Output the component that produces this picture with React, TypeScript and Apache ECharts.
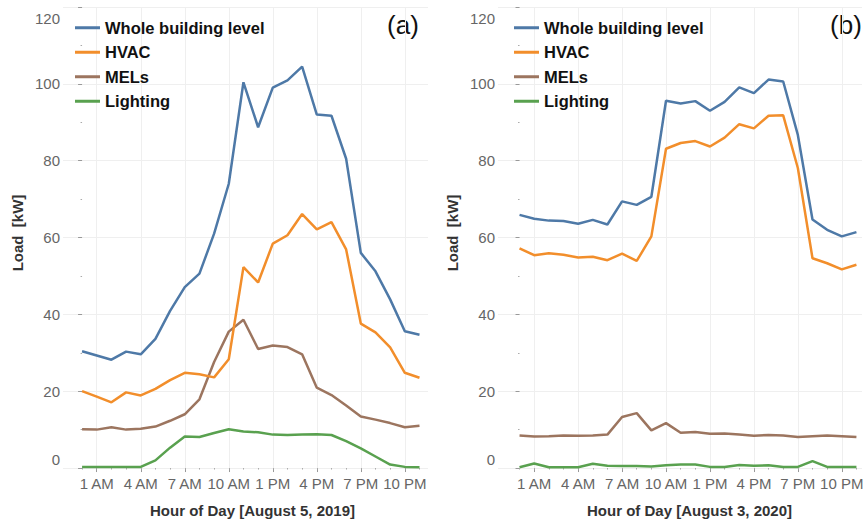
import React, { useEffect, useRef } from "react";
import * as echarts from "echarts";

const hours = [0, 1, 2, 3, 4, 5, 6, 7, 8, 9, 10, 11, 12, 13, 14, 15, 16, 17, 18, 19, 20, 21, 22, 23];
const xTickHours = [1, 4, 7, 10, 13, 16, 19, 22];
const xTickLabels = ["1 AM", "4 AM", "7 AM", "10 AM", "1 PM", "4 PM", "7 PM", "10 PM"];
const yTicks = [0, 20, 40, 60, 80, 100, 120];
const yMinorTicks = [10, 30, 50, 70, 90, 110];

const seriesNames = ["Whole building level", "HVAC", "MELs", "Lighting"];
const colors = ["#4e79a7", "#f28e2b", "#9c755f", "#59a14f"];

// (a) August 5, 2019
const wholeA = [30.4, 29.3, 28.2, 30.3, 29.6, 33.6, 40.9, 47.1, 50.6, 61.0, 74.0, 100.4, 88.7, 99.0, 100.9, 104.5, 92.0, 91.7, 80.5, 56.0, 51.2, 43.9, 35.6, 34.7];
const hvacA = [20.0, 18.6, 17.1, 19.7, 18.9, 20.6, 22.9, 24.8, 24.4, 23.6, 28.3, 52.3, 48.3, 58.4, 60.6, 66.1, 62.1, 64.0, 56.9, 37.6, 35.3, 31.4, 24.8, 23.5];
const melsA = [10.1, 10.0, 10.6, 10.0, 10.2, 10.8, 12.3, 14.0, 17.9, 27.6, 35.5, 38.6, 31.0, 31.9, 31.5, 29.6, 20.9, 19.0, 16.3, 13.4, 12.6, 11.7, 10.6, 11.0];
const lightA = [0.3, 0.3, 0.3, 0.3, 0.3, 2.0, 5.3, 8.2, 8.1, 9.1, 10.1, 9.5, 9.3, 8.7, 8.6, 8.7, 8.8, 8.6, 7.0, 5.1, 3.0, 0.9, 0.3, 0.2];

// (b) August 3, 2020
const wholeB = [65.9, 64.9, 64.4, 64.3, 63.6, 64.6, 63.4, 69.4, 68.5, 70.6, 95.6, 94.9, 95.5, 93.0, 95.3, 99.1, 97.6, 101.1, 100.6, 86.7, 64.7, 62.0, 60.3, 61.4];
const hvacB = [57.2, 55.4, 55.9, 55.5, 54.8, 55.0, 54.1, 55.8, 53.9, 60.3, 83.1, 84.6, 85.1, 83.7, 86.0, 89.5, 88.4, 91.7, 91.8, 78.1, 54.6, 53.3, 51.7, 52.9];
const melsB = [8.5, 8.2, 8.3, 8.5, 8.4, 8.5, 8.7, 13.3, 14.3, 9.8, 11.7, 9.2, 9.4, 8.9, 9.0, 8.7, 8.4, 8.6, 8.5, 8.1, 8.3, 8.5, 8.3, 8.1];
const lightB = [0.2, 1.2, 0.2, 0.2, 0.2, 1.1, 0.6, 0.5, 0.5, 0.4, 0.7, 0.9, 0.9, 0.3, 0.3, 0.8, 0.6, 0.7, 0.3, 0.3, 1.8, 0.3, 0.3, 0.3];

const xNames = ["Hour of Day [August 5, 2019]", "Hour of Day [August 3, 2020]"];
const panelTitles = ["(a)", "(b)"];

const FONT = "'Liberation Sans', Arial, Helvetica, sans-serif";

export default function App() {
  const ref = useRef<HTMLDivElement>(null);

  useEffect(() => {
    if (!ref.current) return;
    const chart = echarts.init(ref.current, undefined, { renderer: "svg" });

    const hourLabel = (v: number) => {
      const idx = xTickHours.indexOf(Math.round(v));
      return idx >= 0 ? xTickLabels[idx] : "";
    };
    const yLabel = (v: number) => {
      if (v === 0) return "{lo|0}";
      if (v === 120) return "{hi|120}";
      return String(v);
    };

    const grids = [
      { left: 63, top: 7, width: 365, height: 468 },
      { left: 498, top: 7, width: 364, height: 468 },
    ];
    const xRanges = [
      [-1.3, 23.58],
      [-1.47, 23.38],
    ];
    const namePad = [14, 19];

    const xAxes: any[] = [];
    const yAxes: any[] = [];
    [0, 1].forEach((g) => {
      xAxes.push({
        type: "value",
        gridIndex: g,
        min: xRanges[g][0],
        max: xRanges[g][1],
        axisLine: { show: false },
        axisTick: { show: true, customValues: xTickHours, length: 4, lineStyle: { color: "#999" } },
        axisLabel: {
          customValues: xTickHours,
          formatter: hourLabel,
          color: "#666",
          fontSize: 15,
          fontFamily: FONT,
          margin: 7,
        },
        splitLine: { show: true, lineStyle: { color: "#efefef", width: 1 } },
        name: xNames[g],
        nameLocation: "middle",
        nameGap: 34,
        nameTextStyle: {
          color: "#333",
          fontSize: 15,
          fontWeight: "bold",
          fontFamily: FONT,
          padding: [0, 0, 0, namePad[g]],
        },
      });
      xAxes.push({
        type: "value",
        gridIndex: g,
        min: xRanges[g][0],
        max: xRanges[g][1],
        position: "bottom",
        axisLine: { show: false },
        axisTick: { show: true, customValues: hours, length: 1.5, lineStyle: { color: "#aaa" } },
        axisLabel: { show: false },
        splitLine: { show: false },
      });
      yAxes.push({
        type: "value",
        gridIndex: g,
        min: -0.25,
        max: 120,
        axisLine: { show: false },
        axisTick: { show: true, customValues: yTicks, length: 4, lineStyle: { color: "#999" } },
        axisLabel: {
          customValues: yTicks,
          formatter: yLabel,
          color: "#666",
          fontSize: 15,
          fontFamily: FONT,
          margin: 3,
          rich: {
            lo: { color: "#666", fontSize: 15, fontFamily: FONT, padding: [0, 0, 18, 0] },
            hi: { color: "#666", fontSize: 15, fontFamily: FONT, padding: [22, 0, 0, 0] },
          },
        },
        splitLine: { show: true, lineStyle: { color: "#efefef", width: 1 } },
        name: "Load  [kW]",
        nameLocation: "middle",
        nameGap: 38,
        nameTextStyle: {
          color: "#333",
          fontSize: 15,
          fontWeight: "bold",
          fontFamily: FONT,
          padding: [0, 0, 0, 10],
        },
      });
      yAxes.push({
        type: "value",
        gridIndex: g,
        min: -0.25,
        max: 120,
        position: "left",
        axisLine: { show: false },
        axisTick: { show: true, customValues: yMinorTicks, length: 1.5, lineStyle: { color: "#aaa" } },
        axisLabel: { show: false },
        splitLine: { show: false },
      });
    });

    const panels = [
      [wholeA, hvacA, melsA, lightA],
      [wholeB, hvacB, melsB, lightB],
    ];
    const series: any[] = [];
    panels.forEach((vals, g) => {
      vals.forEach((arr, k) => {
        series.push({
          type: "line",
          name: seriesNames[k],
          xAxisIndex: g * 2,
          yAxisIndex: g * 2,
          data: hours.map((h, i) => [h, arr[i]]),
          showSymbol: false,
          symbol: "none",
          lineStyle: { color: colors[k], width: 2.5 },
          itemStyle: { color: colors[k] },
          z: 10 - k,
        });
      });
    });

    const legendBase = {
      orient: "vertical",
      top: 10.5,
      icon: "rect",
      itemWidth: 25,
      itemHeight: 3,
      itemGap: 0,
      selectedMode: false,
      data: seriesNames,
      textStyle: {
        color: "#111",
        fontSize: 16.5,
        fontWeight: "bold",
        fontFamily: FONT,
        lineHeight: 24.5,
        padding: [0, 0, 0, 0],
      },
    };

    chart.setOption({
      animation: false,
      backgroundColor: "#ffffff",
      grid: grids,
      xAxis: xAxes,
      yAxis: yAxes,
      legend: [
        { ...legendBase, left: 70 },
        { ...legendBase, left: 509 },
      ],
      graphic: [
        {
          type: "text",
          x: 403,
          y: 25,
          style: {
            text: panelTitles[0],
            fontSize: 26,
            fontFamily: FONT,
            fill: "#111",
            align: "center",
            verticalAlign: "middle",
          },
        },
        {
          type: "text",
          x: 846,
          y: 25,
          style: {
            text: panelTitles[1],
            fontSize: 26,
            fontFamily: FONT,
            fill: "#111",
            align: "center",
            verticalAlign: "middle",
          },
        },
      ],
      series,
    });

    return () => chart.dispose();
  }, []);

  return (
    <div
      ref={ref}
      style={{ position: "fixed", left: 0, top: 0, width: 867, height: 523, background: "#fff" }}
    />
  );
}
